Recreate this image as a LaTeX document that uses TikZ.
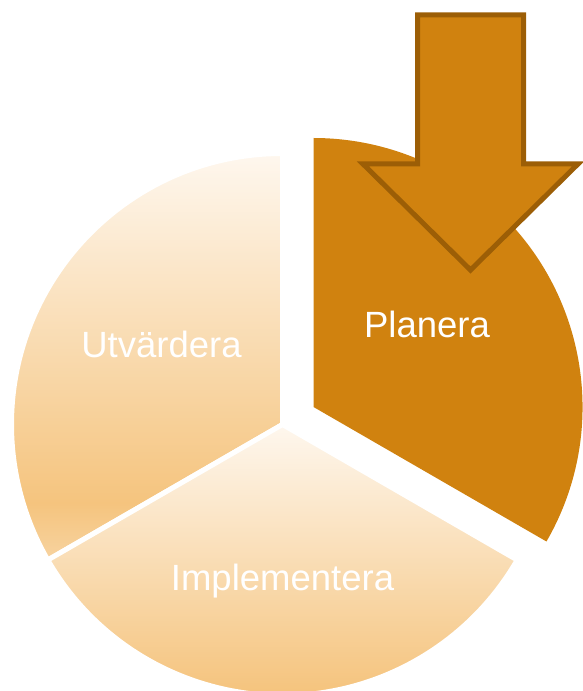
\documentclass[tikz,border=0pt]{standalone}
\usepackage{fontspec}
\setmainfont{Liberation Sans}
\usepackage{tikz}

\definecolor{fadetop}{HTML}{FEF7EE}
\definecolor{fadedeep}{HTML}{F5C47E}
\definecolor{fadeend}{HTML}{F7D3A0}
\definecolor{planfill}{HTML}{D0820F}
\definecolor{planedge}{HTML}{9C5E06}

\pgfdeclareverticalshading{slicefade}{100bp}{color(0bp)=(fadeend); color(25bp)=(fadeend);
  color(32bp)=(fadedeep); color(75bp)=(fadetop); color(100bp)=(fadetop)}

\tikzset{
  slice/.style={shading=slicefade, draw=white, line width=5},
  label/.style={text=white, font=\fontsize{36.5}{40}\selectfont, anchor=base, inner sep=0pt},
}

\begin{document}
\begin{tikzpicture}[x=1pt, y=1pt]
      \useasboundingbox (0,0) rectangle (582,691);
      \coordinate (C) at (282.5,266.5);
      \coordinate (P) at (313.5,284);

      % the two light slices
      \shadedraw[slice] (C) -- ++(90:271) arc[start angle=90, end angle=210, radius=271] -- cycle;
      \shadedraw[slice] (C) -- ++(210:271) arc[start angle=210, end angle=330, radius=271] -- cycle;

      % pulled out slice
      \fill[planfill] (P) -- ++(-30:269) arc[start angle=-30, end angle=90, radius=269] -- cycle;

      % arrow
      \draw[fill=planfill, draw=planedge, line width=5, line join=miter]
        (417.5,676) -- (523.5,676) -- (523.5,527) -- (578,527)
        -- (470.5,421) -- (363,527) -- (417.5,527) -- cycle;

      \node[label] (utv) at (161.5,333) {Utvärdera};
      \node[label] (imp) at (282.5,100) {Implementera};
      \node[label] (plan) at (427,353) {Planera};
    \end{tikzpicture}
\end{document}
